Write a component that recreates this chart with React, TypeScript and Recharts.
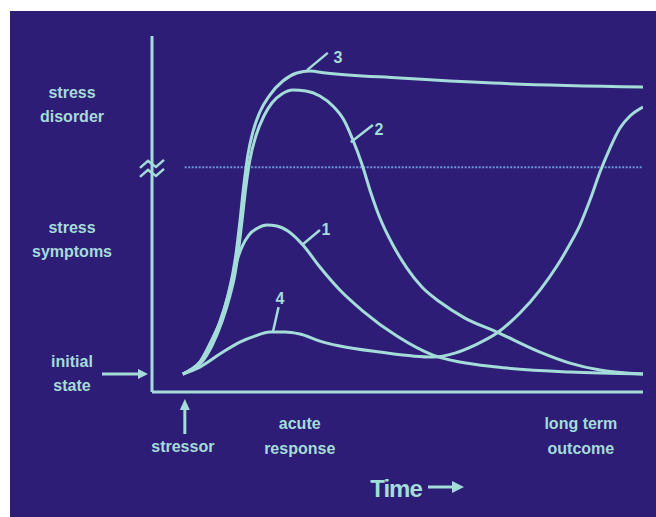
import React from 'react';
import { LineChart, Line, XAxis, YAxis, ReferenceLine, ReferenceDot, Label } from 'recharts';

const INK = '#a4dcd9';
const BG = '#2e1d76';
const FONT = '"Liberation Sans", Arial, sans-serif';

// time: 0 = stressor, 100 = long term outcome; level: 0 = initial state
const time1 = [0, 1.96, 3.7, 5.87, 8.04, 9.78, 10.87, 11.74, 12.83, 14.35, 16.3, 18.26, 20.43, 22.83, 26.09, 29.78, 34.13, 39.13, 46.52, 54.35, 60.22, 68.26, 84.13, 100];
const level1 = [0, 1.48, 3.55, 8.88, 15.38, 23.08, 29.0, 33.43, 37.57, 41.12, 43.2, 44.08, 43.79, 42.31, 38.17, 31.66, 24.85, 18.64, 11.24, 5.62, 3.55, 2.07, 0.59, 0];

const time2 = [0, 2.17, 4.13, 6.3, 8.48, 10.22, 11.3, 11.96, 12.83, 13.7, 14.57, 15.87, 17.61, 19.35, 21.52, 23.91, 26.74, 29.78, 32.61, 35.0, 36.96, 38.91, 40.87, 42.83, 45.65, 48.7, 51.96, 55.87, 61.3, 68.26, 77.61, 84.13, 90.65, 100];
const level2 = [0, 1.48, 3.55, 8.28, 15.38, 23.08, 29.29, 35.21, 44.97, 55.33, 63.31, 70.41, 76.33, 80.18, 82.84, 84.02, 83.73, 82.25, 79.29, 75.15, 69.23, 62.13, 53.55, 46.15, 38.17, 31.36, 25.74, 21.3, 16.57, 12.43, 6.51, 3.25, 1.18, 0];

const time3 = [0, 1.96, 3.7, 5.87, 8.04, 9.78, 10.87, 11.52, 12.39, 13.26, 14.13, 15.22, 16.74, 18.91, 21.74, 24.78, 27.61, 31.09, 47.17, 67.39, 100];
const level3 = [0, 1.48, 3.55, 8.88, 15.38, 23.08, 29.88, 35.21, 44.97, 55.92, 64.79, 71.6, 77.51, 82.54, 86.69, 89.05, 89.64, 89.05, 87.57, 86.09, 84.91];

const time4 = [0, 3.7, 8.04, 12.39, 15.65, 18.91, 22.17, 25.43, 29.78, 34.13, 42.83, 54.35, 59.13, 63.48, 68.26, 73.26, 77.61, 81.3, 84.13, 86.3, 88.48, 90.65, 92.83, 95.0, 97.17, 100];
const level4 = [0, 2.07, 5.92, 9.47, 11.24, 12.43, 12.43, 11.83, 9.76, 8.28, 6.51, 5.03, 6.21, 8.58, 12.13, 18.05, 24.85, 31.95, 38.46, 44.08, 51.48, 59.76, 66.86, 72.78, 76.33, 79.0];

const disorderThreshold = 61.2;

const yTicks = [0, 39.6, 79.6];
const yTickLabels = [['initial', 'state'], ['stress', 'symptoms'], ['stress', 'disorder']];

const xTicks = [0, 25.4, 86.5];
const xTickLabels = [['stressor'], ['acute', 'response'], ['long term', 'outcome']];

// leader lines: [from time, from level, to time, to level], then label position
const leaders = [
  { name: '1', seg: [25.9, 38.2, 29.8, 42.6], at: [31.1, 42.9] },
  { name: '2', seg: [36.5, 68.6, 41.3, 73.7], at: [42.6, 72.5] },
  { name: '3', seg: [27.0, 89.9, 31.5, 95.0], at: [33.7, 93.8] },
  { name: '4', seg: [19.6, 12.6, 20.8, 19.8], at: [21.1, 22.6] },
];

const toPoints = (t: number[], l: number[]) => t.map((u, i) => ({ u, v: l[i] }));
const curves = [
  toPoints(time1, level1),
  toPoints(time2, level2),
  toPoints(time3, level3),
  toPoints(time4, level4),
];

const textStyle = { fill: INK, fontFamily: FONT, fontWeight: 700, fontSize: 16 };

const YTick = (props: any) => {
  const { y, payload } = props;
  const i = yTicks.indexOf(payload.value);
  const lines = yTickLabels[i] || [];
  return (
    <g>
      {lines.map((s, k) => (
        <text key={k} x={72} y={y - 7 + k * 24} textAnchor="middle" {...textStyle}>{s}</text>
      ))}
      {i === 0 && (
        <g>
          <line x1={102} y1={y} x2={140} y2={y} stroke={INK} strokeWidth={3} />
          <path d={`M138,${y - 5} L148,${y} L138,${y + 5} Z`} fill={INK} />
        </g>
      )}
    </g>
  );
};

const XTick = (props: any) => {
  const { x, payload } = props;
  const i = xTicks.indexOf(payload.value);
  const lines = xTickLabels[i] || [];
  if (i === 0) {
    return (
      <g>
        <line x1={x + 2} y1={408} x2={x + 2} y2={434} stroke={INK} strokeWidth={3} />
        <path d={`M${x - 3},${410} L${x + 2},${399} L${x + 7},${410} Z`} fill={INK} />
        <text x={x} y={452} textAnchor="middle" {...textStyle}>{lines[0]}</text>
      </g>
    );
  }
  return (
    <g>
      {lines.map((s, k) => (
        <text key={k} x={x} y={429 + k * 25} textAnchor="middle" {...textStyle}>{s}</text>
      ))}
    </g>
  );
};

const BreakMark = (props: any) => {
  const { cx, cy } = props;
  const zig = (dy: number) => `M${cx - 12},${cy + dy + 3} L${cx - 4},${cy + dy - 4} L${cx + 4},${cy + dy + 2} L${cx + 12},${cy + dy - 5}`;
  return (
    <g>
      <path d={zig(-5)} stroke={INK} strokeWidth={2.5} fill="none" />
      <path d={zig(4)} stroke={INK} strokeWidth={2.5} fill="none" />
    </g>
  );
};

const NumberMark = (name: string) => (props: any) => (
  <text x={props.cx} y={props.cy + 6} textAnchor="middle" {...textStyle}>{name}</text>
);

const TimeLabel = () => (
  <g>
    <text x={396} y={497} textAnchor="middle" fill={INK} fontFamily={FONT} fontWeight={700} fontSize={24} letterSpacing={-1}>Time</text>
    <line x1={428} y1={487} x2={454} y2={487} stroke={INK} strokeWidth={3} />
    <path d="M452,481 L464,487 L452,493 Z" fill={INK} />
  </g>
);

export default function App() {
  return (
    <div style={{ position: 'absolute', left: 0, top: 0, width: 656, height: 517, background: '#ffffff' }}>
      <div style={{ position: 'absolute', left: 10, top: 11, right: 0, bottom: 0, background: BG }} />
      <div style={{ position: 'absolute', left: 0, top: 0 }}>
        <LineChart width={656} height={517} margin={{ top: 36, right: 13, bottom: 124, left: 151 }}>
          <XAxis
            type="number"
            dataKey="u"
            domain={[-6.7, 100]}
            ticks={xTicks}
            interval={0}
            height={1}
            tickLine={false}
            axisLine={{ stroke: INK, strokeWidth: 3 }}
            tick={<XTick />}
            allowDataOverflow
          >
            <Label content={<TimeLabel />} />
          </XAxis>
          <YAxis
            type="number"
            dataKey="v"
            domain={[-5.3, 100]}
            ticks={yTicks}
            interval={0}
            width={1}
            tickLine={false}
            axisLine={{ stroke: INK, strokeWidth: 3 }}
            tick={<YTick />}
            allowDataOverflow
          />
          <ReferenceLine
            segment={[{ x: 0.4, y: disorderThreshold }, { x: 100, y: disorderThreshold }]}
            stroke="#6c95d6"
            strokeWidth={2}
            strokeDasharray="2 1.5"
            ifOverflow="visible"
          />
          <ReferenceDot x={-6.7} y={60.4} r={0} shape={<BreakMark />} ifOverflow="visible" />
          {curves.map((data, i) => (
            <Line
              key={i}
              data={data}
              dataKey="v"
              type="monotone"
              stroke={INK}
              strokeWidth={3}
              dot={false}
              activeDot={false}
              isAnimationActive={false}
            />
          ))}
          {leaders.map((d) => (
            <ReferenceLine
              key={'l' + d.name}
              segment={[{ x: d.seg[0], y: d.seg[1] }, { x: d.seg[2], y: d.seg[3] }]}
              stroke={INK}
              strokeWidth={2.5}
              ifOverflow="visible"
            />
          ))}
          {leaders.map((d) => (
            <ReferenceDot key={'n' + d.name} x={d.at[0]} y={d.at[1]} r={0} shape={NumberMark(d.name)} ifOverflow="visible" />
          ))}
        </LineChart>
      </div>
    </div>
  );
}
